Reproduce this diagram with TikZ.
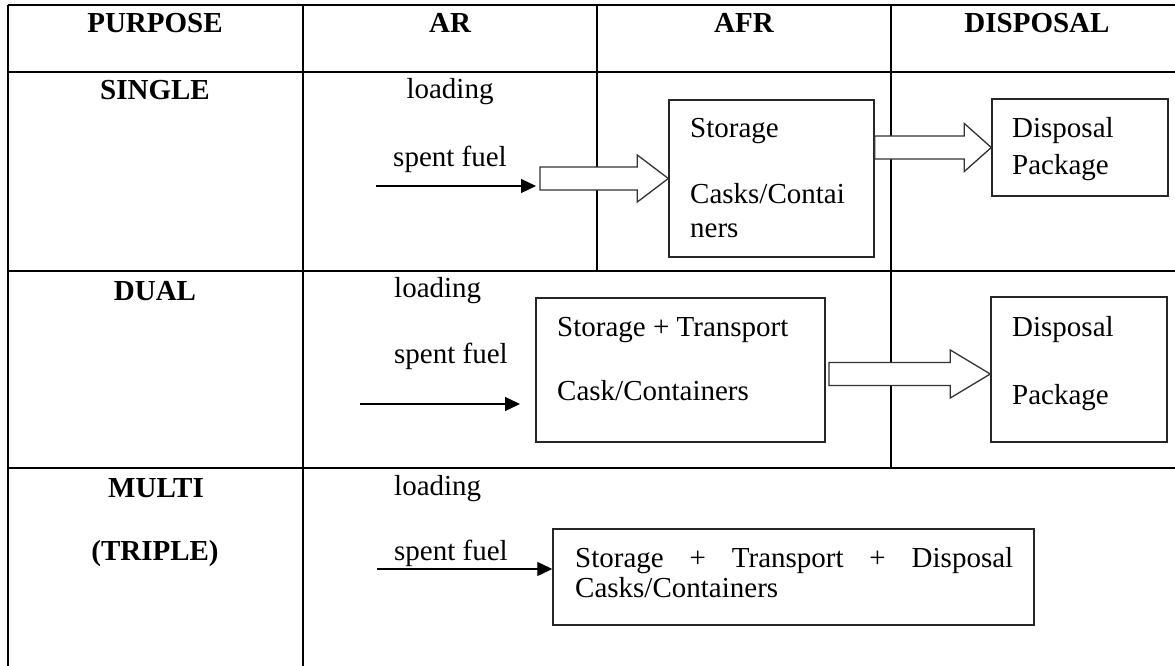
\documentclass[tikz,border=0pt]{standalone}
\usepackage{fontspec}
\setmainfont{Liberation Serif}
\usetikzlibrary{arrows.meta,calc}
\newcommand\fatarrow[5]{%
  \draw[fat] let \p1=(#1), \p2=(#2) in
   (\x1,\y2+#3) -- (\x2-#5,\y2+#3) -- (\x2-#5,\y2+#4) -- (\x2,\y2)
   -- (\x2-#5,\y2-#4) -- (\x2-#5,\y2-#3) -- (\x1,\y2-#3) -- cycle;}
\begin{document}
\begin{tikzpicture}[x=1pt,y=-1pt,
  grid/.style={line width=2pt,black},
  box/.style={draw=black!85,line width=1.4pt,inner sep=0pt},
  txt/.style={anchor=base west,inner sep=0pt,font=\fontsize{29}{34}\selectfont},
  ctxt/.style={anchor=base,inner sep=0pt,font=\fontsize{29}{34}\selectfont},
  head/.style={anchor=base,inner sep=0pt,font=\fontsize{29}{34}\selectfont\bfseries},
  feed/.style={line width=1.2pt,-{Triangle[length=15pt,width=14pt]}},
  fat/.style={draw=black!80,line width=1.3pt,fill=white,line join=miter}]
\useasboundingbox[fill=white] (0,0) rectangle (1175,666);

% table grid
\draw[grid] (8,5) -- (1175,5);
\draw[grid] (8,72) -- (1175,72);
\draw[grid] (8,271) -- (1175,271);
\draw[grid] (8,468) -- (1175,468);
\draw[grid] (8,5) -- (8,666);
\draw[grid] (303,5) -- (303,666);
\draw[grid] (597,5) -- (597,271);
\draw[grid] (891,5) -- (891,468);

% headers
\node[head] (hp) at (155,33) {PURPOSE};
\node[head] (har) at (450,33) {AR};
\node[head] (hafr) at (744,33) {AFR};
\node[head] (hdis) at (1037,33) {DISPOSAL};
\node[head] (rs) at (155,100) {SINGLE};
\node[head] (rd) at (155,300) {DUAL};
\node[head] (rm) at (156,497) {MULTI};
\node[head] (rt) at (155,560) {(TRIPLE)};

% boxes
\node[box,minimum width=205pt,minimum height=157pt] (stor) at (771.5,178.5) {};
\node[box,minimum width=176pt,minimum height=97pt] (disp1) at (1080,147.5) {};
\node[box,minimum width=289pt,minimum height=144pt] (stt) at (680.5,370) {};
\node[box,minimum width=176pt,minimum height=145pt] (disp2) at (1079,369.5) {};
\node[box,minimum width=481pt,minimum height=96pt] (all3) at (793.5,577) {};

% row 1 texts
\node[ctxt] (l1) at (450,99) {loading};
\node[ctxt] (s1) at (450,166) {spent fuel};
\node[txt] (st1) at (690,138) {Storage};
\node[txt] (st2) at (690,203) {Casks/Contai};
\node[txt] (st3) at (690,237) {ners};
\node[txt] (dp1) at (1012,138) {Disposal};
\node[txt] (dp2) at (1012,175) {Package};

% row 2 texts
\node[txt] (l2) at (394,297) {loading};
\node[txt] (s2) at (394,363) {spent fuel};
\node[txt] (tt1) at (557,336) {Storage + Transport};
\node[txt] (tt2) at (557,400) {Cask/Containers};
\node[txt] (dq1) at (1012,336) {Disposal};
\node[txt] (dq2) at (1012,404) {Package};

% row 3 texts
\node[txt] (l3) at (394,495) {loading};
\node[txt] (s3) at (394,560) {spent fuel};
\node[txt] (a1) at (575,567) {\makebox[438pt][s]{Storage + Transport + Disposal}};
\node[txt] (a2) at (575,597) {Casks/Containers};

% feed arrows
\coordinate (f1s) at (376,186);
\coordinate (f1e) at (536,186);
\draw[feed] (f1s) -- (f1e);
\coordinate (f2s) at (360,404);
\coordinate (f2e) at (520,404);
\draw[feed] (f2s) -- (f2e);
\coordinate (f3s) at (377,569);
\draw[feed] (f3s) -- (f3s -| all3.west);

% block arrows
\coordinate (b1s) at (540,178.5);
\fatarrow{b1s}{stor.west}{11.5pt}{23.5pt}{31pt}
\fatarrow{stor.east}{disp1.west}{11.5pt}{24pt}{27pt}
\coordinate (b3s) at (829,374);
\coordinate (b3t) at ($(disp2.west)+(0,4.5)$);
\fatarrow{b3s}{b3t}{11.5pt}{24pt}{40pt}
\end{tikzpicture}
\end{document}
